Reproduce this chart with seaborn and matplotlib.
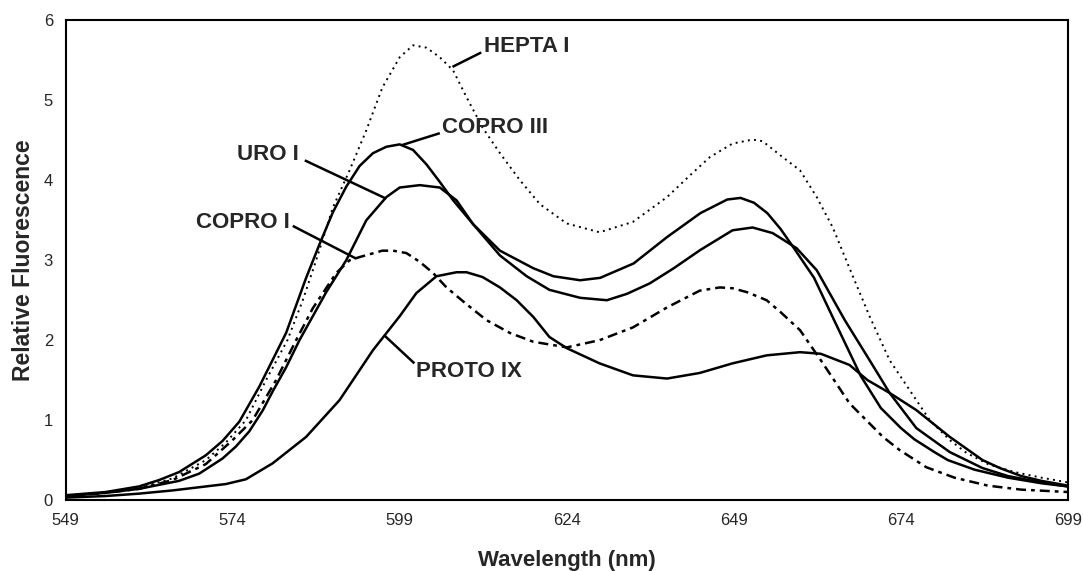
import matplotlib
matplotlib.use("Agg")
import matplotlib.pyplot as plt
import seaborn as sns

# spectra (wavelength nm, relative fluorescence)
hepta_x = [549, 555, 560, 565, 570, 573, 576, 579, 582.2, 584.5, 586.5, 589, 591.5, 594, 596.4, 599, 601, 603,
           605, 607, 609, 611.4, 614, 617, 620, 624, 628.9, 633.9, 639, 642.4, 645.4, 648.8, 651.8, 653.3, 656.3,
           658.9, 661.4, 663.8, 666.3, 669.3, 672.3, 675.3, 678.3, 681.3, 683.8, 687, 691, 695, 699]
hepta_y = [0.05, 0.09, 0.15, 0.27, 0.5, 0.72, 1.0, 1.5, 2.0, 2.5, 3.0, 3.66, 4.125, 4.625, 5.16, 5.54, 5.69, 5.66,
           5.54, 5.375, 5.04, 4.66, 4.34, 4.0, 3.7, 3.46, 3.35, 3.48, 3.79, 4.06, 4.29, 4.46, 4.51, 4.49, 4.29,
           4.125, 3.79, 3.41, 2.9, 2.3, 1.75, 1.375, 1.0, 0.75, 0.59, 0.45, 0.35, 0.28, 0.22]

copro3_x = [549, 555, 560, 563, 566, 570, 572.5, 575, 578, 582, 585, 587, 589, 591, 593, 595, 597, 599, 601, 603,
            605, 607, 610, 614, 619, 622, 626, 629, 634, 639, 644, 648, 650, 652, 654, 656, 658, 661, 664, 666,
            668, 671, 674, 676, 679, 681, 685, 690, 695, 699]
copro3_y = [0.06, 0.1, 0.17, 0.25, 0.35, 0.56, 0.74, 0.98, 1.42, 2.09, 2.78, 3.2, 3.6, 3.92, 4.18, 4.34, 4.42, 4.45,
            4.38, 4.2, 3.98, 3.75, 3.45, 3.12, 2.9, 2.8, 2.75, 2.78, 2.96, 3.29, 3.59, 3.76, 3.78, 3.72, 3.59, 3.39,
            3.15, 2.78, 2.25, 1.9, 1.55, 1.15, 0.9, 0.76, 0.6, 0.5, 0.38, 0.28, 0.21, 0.17]

uro1_x = [549, 555, 560, 566, 569, 572.5, 574.5, 576.5, 578.5, 580, 582, 584, 586, 588, 591, 592.5, 594, 597, 599,
          602, 605, 607.5, 610, 614, 618, 621.4, 626, 630, 633, 636.4, 640, 644, 648.8, 651.8, 654.8, 656.9, 658.4,
          661.4, 665.6, 669.3, 672.3, 676.3, 681.3, 686.2, 690, 695, 699]
uro1_y = [0.05, 0.09, 0.14, 0.24, 0.33, 0.52, 0.67, 0.86, 1.12, 1.36, 1.66, 2.0, 2.3, 2.6, 3.0, 3.25, 3.5, 3.79,
          3.91, 3.94, 3.91, 3.75, 3.45, 3.06, 2.8, 2.63, 2.53, 2.5, 2.58, 2.71, 2.9, 3.13, 3.375, 3.41, 3.34, 3.23,
          3.15, 2.875, 2.25, 1.75, 1.34, 0.9, 0.6, 0.4, 0.3, 0.22, 0.17]

copro1_x = [549, 555, 560, 565, 570, 574, 577, 580.5, 583.5, 586, 589.5, 591.5, 593, 596.4, 598, 600, 602, 604, 606,
            609, 612, 615.5, 619, 624, 628.9, 633.9, 639, 643.9, 646.9, 648.8, 651, 653.9, 656, 658.9, 662, 666.3,
            668.8, 671.3, 673.8, 677.8, 682, 687, 692, 699]
copro1_y = [0.05, 0.09, 0.14, 0.25, 0.45, 0.75, 1.0, 1.5, 2.0, 2.4, 2.84, 3.0, 3.04, 3.12, 3.12, 3.09, 2.98, 2.84,
            2.66, 2.45, 2.25, 2.09, 1.98, 1.91, 2.0, 2.16, 2.41, 2.62, 2.66, 2.65, 2.6, 2.5, 2.35, 2.125, 1.75, 1.21,
            1.0, 0.79, 0.625, 0.41, 0.28, 0.18, 0.13, 0.1]

proto9_x = [549, 555, 560, 565, 570, 573, 576, 580, 585, 590, 595, 599, 601.5, 604.5, 607.5, 609, 611.4, 614, 616.5,
            619, 621.4, 624, 628.9, 633.9, 639, 643.9, 648.8, 653.9, 658.9, 662, 666.3, 669, 672.3, 676.3, 681.3,
            686.2, 688.8, 692, 695, 699]
proto9_y = [0.03, 0.05, 0.08, 0.12, 0.17, 0.2, 0.26, 0.46, 0.79, 1.25, 1.875, 2.3, 2.59, 2.8, 2.85, 2.85, 2.79, 2.66,
            2.5, 2.29, 2.04, 1.9, 1.71, 1.56, 1.52, 1.59, 1.71, 1.81, 1.85, 1.83, 1.69, 1.5, 1.34, 1.125, 0.79, 0.5,
            0.4, 0.3, 0.24, 0.18]

x_ticks = [549, 574, 599, 624, 649, 674, 699]
y_ticks = [0, 1, 2, 3, 4, 5, 6]

# label text, text anchor, leader line (curve point -> text corner)
labels = [
    ("HEPTA I", (611.6, 5.6), "left", [606.9, 611.2], [5.42, 5.6]),
    ("COPRO III", (605.4, 4.59), "left", [599.3, 605.0], [4.44, 4.59]),
    ("URO I", (583.9, 4.25), "right", [584.8, 597.0], [4.25, 3.77]),
    ("COPRO I", (582.6, 3.4), "right", [583.0, 592.5], [3.43, 3.02]),
    ("PROTO IX", (601.4, 1.54), "left", [596.7, 601.2], [2.06, 1.71]),
]

sns.set_style("white")
plt.rcParams["font.family"] = ["Liberation Sans", "DejaVu Sans"]

fig = plt.figure(figsize=(10.83, 5.71), dpi=100)
ax = fig.add_axes([0.0605, 0.1243, 0.9257, 0.8398])

sns.lineplot(x=hepta_x, y=hepta_y, ax=ax, color="black", linewidth=1.4, linestyle=(0, (1, 2.2)))
sns.lineplot(x=copro1_x, y=copro1_y, ax=ax, color="black", linewidth=1.8, linestyle=(0, (4, 2, 1.5, 2)))
sns.lineplot(x=copro3_x, y=copro3_y, ax=ax, color="black", linewidth=1.8)
sns.lineplot(x=uro1_x, y=uro1_y, ax=ax, color="black", linewidth=1.8)
sns.lineplot(x=proto9_x, y=proto9_y, ax=ax, color="black", linewidth=1.8)

for text, (tx, ty), ha, lx, ly in labels:
    ax.plot(lx, ly, color="black", linewidth=1.8, solid_capstyle="butt")
    ax.text(tx, ty, text, ha=ha, va="baseline", fontsize=16, fontweight="bold")

ax.set_xlim(549, 699)
ax.set_ylim(0, 6)
ax.set_xticks(x_ticks)
ax.set_yticks(y_ticks)
ax.tick_params(direction="inout", length=8, width=1, labelsize=12, pad=5, color="black")
for side in ["left", "right", "top", "bottom"]:
    ax.spines[side].set_visible(True)
    ax.spines[side].set_color("black")
    ax.spines[side].set_linewidth(1.5)

ax.set_xlabel("Wavelength (nm)", fontsize=16, fontweight="bold", labelpad=16)
ax.set_ylabel("Relative Fluorescence", fontsize=16.5, fontweight="bold", labelpad=6)

fig.savefig("out.png", dpi=100)
